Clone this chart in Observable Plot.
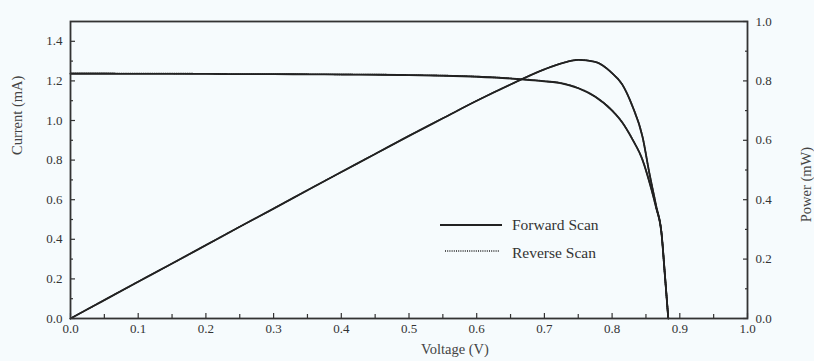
<!DOCTYPE html>
<html><head><meta charset="utf-8">
<script src="https://cdn.jsdelivr.net/npm/d3@7"></script>
<script src="https://cdn.jsdelivr.net/npm/@observablehq/plot@0.6"></script>
<style>
body{margin:0;background:#f6fbfd;}
#wrap{position:relative;width:814px;height:361px;}
#legend{position:absolute;left:0;top:0;pointer-events:none;}
</style></head><body>
<div id="wrap"></div>
<script>
// Voltage (V)
const voltage = [0, 0.05, 0.1, 0.15, 0.2, 0.25, 0.3, 0.35, 0.4, 0.45, 0.5, 0.55, 0.6, 0.65, 0.7, 0.725, 0.75, 0.775, 0.8, 0.815, 0.83, 0.845, 0.855, 0.865, 0.873, 0.878, 0.883];
// Current (mA)
const currentForward = [1.236, 1.236, 1.235, 1.235, 1.235, 1.234, 1.234, 1.233, 1.232, 1.231, 1.229, 1.226, 1.221, 1.212, 1.198, 1.188, 1.163, 1.12, 1.05, 0.99, 0.905, 0.80, 0.69, 0.56, 0.43, 0.22, 0];
const currentReverse = [1.238, 1.238, 1.237, 1.237, 1.236, 1.235, 1.235, 1.234, 1.233, 1.232, 1.230, 1.227, 1.222, 1.213, 1.199, 1.189, 1.164, 1.121, 1.051, 0.991, 0.906, 0.801, 0.691, 0.561, 0.431, 0.221, 0];
// Power (mW)
const powerForward = [0, 0.062, 0.124, 0.185, 0.247, 0.309, 0.370, 0.432, 0.493, 0.554, 0.615, 0.674, 0.733, 0.788, 0.839, 0.859, 0.871, 0.864, 0.826, 0.788, 0.715, 0.611, 0.49, 0.38, 0.287, 0.145, 0];
const powerReverse = [0, 0.062, 0.124, 0.185, 0.247, 0.309, 0.370, 0.432, 0.493, 0.554, 0.615, 0.674, 0.733, 0.788, 0.839, 0.859, 0.871, 0.864, 0.826, 0.788, 0.715, 0.611, 0.49, 0.38, 0.287, 0.145, 0];

const voltageTicks = [0, 0.1, 0.2, 0.3, 0.4, 0.5, 0.6, 0.7, 0.8, 0.9, 1.0];
const voltageMinorTicks = [0.05, 0.15, 0.25, 0.35, 0.45, 0.55, 0.65, 0.75, 0.85, 0.95];
const currentTicks = [0, 0.2, 0.4, 0.6, 0.8, 1.0, 1.2, 1.4];
const currentMinorTicks = [0.1, 0.3, 0.5, 0.7, 0.9, 1.1, 1.3];
const powerTicks = [0, 0.2, 0.4, 0.6, 0.8, 1.0];
const powerMinorTicks = [0.1, 0.3, 0.5, 0.7, 0.9];

const currentMax = 1.5, powerMax = 1.0;
const ratio = currentMax / powerMax;

const rows = voltage.map((v, i) => ({V: v, If: currentForward[i], Ir: currentReverse[i], Pf: powerForward[i], Pr: powerReverse[i]}));

const font = "Liberation Serif, Times New Roman, serif";
const ink = "#222";
const fmt = d3.format(".1f");
const blank = () => "";
const tk = "#333";

const chart = Plot.plot({
  width: 814, height: 361,
  marginLeft: 70, marginRight: 67, marginTop: 21, marginBottom: 43,
  style: {fontFamily: font, fontSize: "13px", color: "#333", background: "transparent"},
  x: {domain: [0, 1]},
  y: {domain: [0, currentMax]},
  marks: [
    Plot.line(rows, {x: "V", y: "If", stroke: ink, strokeWidth: 1.8, curve: "monotone-x"}),
    Plot.line(rows, {x: "V", y: "Ir", stroke: ink, strokeWidth: 1.6, strokeDasharray: "1,1.2", curve: "monotone-x"}),
    Plot.line(rows, {x: "V", y: d => d.Pf * ratio, stroke: ink, strokeWidth: 1.8, curve: "monotone-x"}),
    Plot.line(rows, {x: "V", y: d => d.Pr * ratio, stroke: ink, strokeWidth: 1.6, strokeDasharray: "1,1.2", curve: "monotone-x"}),
    // labels
    Plot.axisX(voltageTicks, {tickSize: 0, tickPadding: 5, tickFormat: fmt, label: null}),
    Plot.axisY(currentTicks, {anchor: "left", tickSize: 0, tickPadding: 8, tickFormat: fmt, label: null}),
    Plot.axisY(powerTicks.map(p => p * ratio), {anchor: "right", tickSize: 0, tickPadding: 8, tickFormat: d => fmt(d / ratio), label: null}),
    // inward ticks
    Plot.axisX(voltageTicks, {tickSize: 5, dy: -5, tickFormat: blank, label: null, stroke: tk, strokeWidth: 1.2}),
    Plot.axisX(voltageMinorTicks, {tickSize: 4, dy: -4, tickFormat: blank, label: null, stroke: tk, strokeWidth: 1.2}),
    Plot.axisY(currentTicks, {anchor: "left", tickSize: 5, dx: 5, tickFormat: blank, label: null, stroke: tk, strokeWidth: 1.2}),
    Plot.axisY(currentMinorTicks, {anchor: "left", tickSize: 3, dx: 3, tickFormat: blank, label: null, stroke: tk, strokeWidth: 1.2}),
    Plot.axisY(powerTicks.map(p => p * ratio), {anchor: "right", tickSize: 5, dx: -5, tickFormat: blank, label: null, stroke: tk, strokeWidth: 1.2}),
    Plot.axisY(powerMinorTicks.map(p => p * ratio), {anchor: "right", tickSize: 3, dx: -3, tickFormat: blank, label: null, stroke: tk, strokeWidth: 1.2}),
    Plot.frame({stroke: "#333", strokeWidth: 1.8}),
    Plot.text(["Current (mA)"], {frameAnchor: "left", text: d => d, rotate: -90, dx: -53, dy: -15, fontSize: 14.5, fill: "#444"}),
    Plot.text(["Voltage (V)"], {frameAnchor: "bottom", text: d => d, dx: 46, dy: 35, fontSize: 14.5, fill: "#444"}),
    Plot.text(["Power (mW)"], {frameAnchor: "right", text: d => d, rotate: -90, dx: 59, dy: -23, fontSize: 14.5, fill: "#444"})
  ]
});
const wrap = document.getElementById("wrap");
wrap.appendChild(chart);

// Legend overlay
const legendItems = [
  {label: "Forward Scan", dash: null},
  {label: "Reverse Scan", dash: "1,1.2"}
];
const ns = "http://www.w3.org/2000/svg";
const lg = document.createElementNS(ns, "svg");
lg.setAttribute("id", "legend");
lg.setAttribute("width", 814); lg.setAttribute("height", 361);
const legY = [225, 251], legTextY = [230, 257.5], legX1 = [440, 445], legX2 = [502, 500];
legendItems.forEach((it, i) => {
  const l = document.createElementNS(ns, "line");
  l.setAttribute("x1", legX1[i]); l.setAttribute("x2", legX2[i]);
  l.setAttribute("y1", legY[i]); l.setAttribute("y2", legY[i]);
  l.setAttribute("stroke", ink); l.setAttribute("stroke-width", it.dash ? 1.6 : 1.8);
  if (it.dash) l.setAttribute("stroke-dasharray", it.dash);
  lg.appendChild(l);
  const t = document.createElementNS(ns, "text");
  t.setAttribute("x", 512); t.setAttribute("y", legTextY[i]);
  t.setAttribute("font-family", font); t.setAttribute("font-size", 15.5); t.setAttribute("fill", "#333");
  t.textContent = it.label;
  lg.appendChild(t);
});
wrap.appendChild(lg);
</script>
</body></html>
